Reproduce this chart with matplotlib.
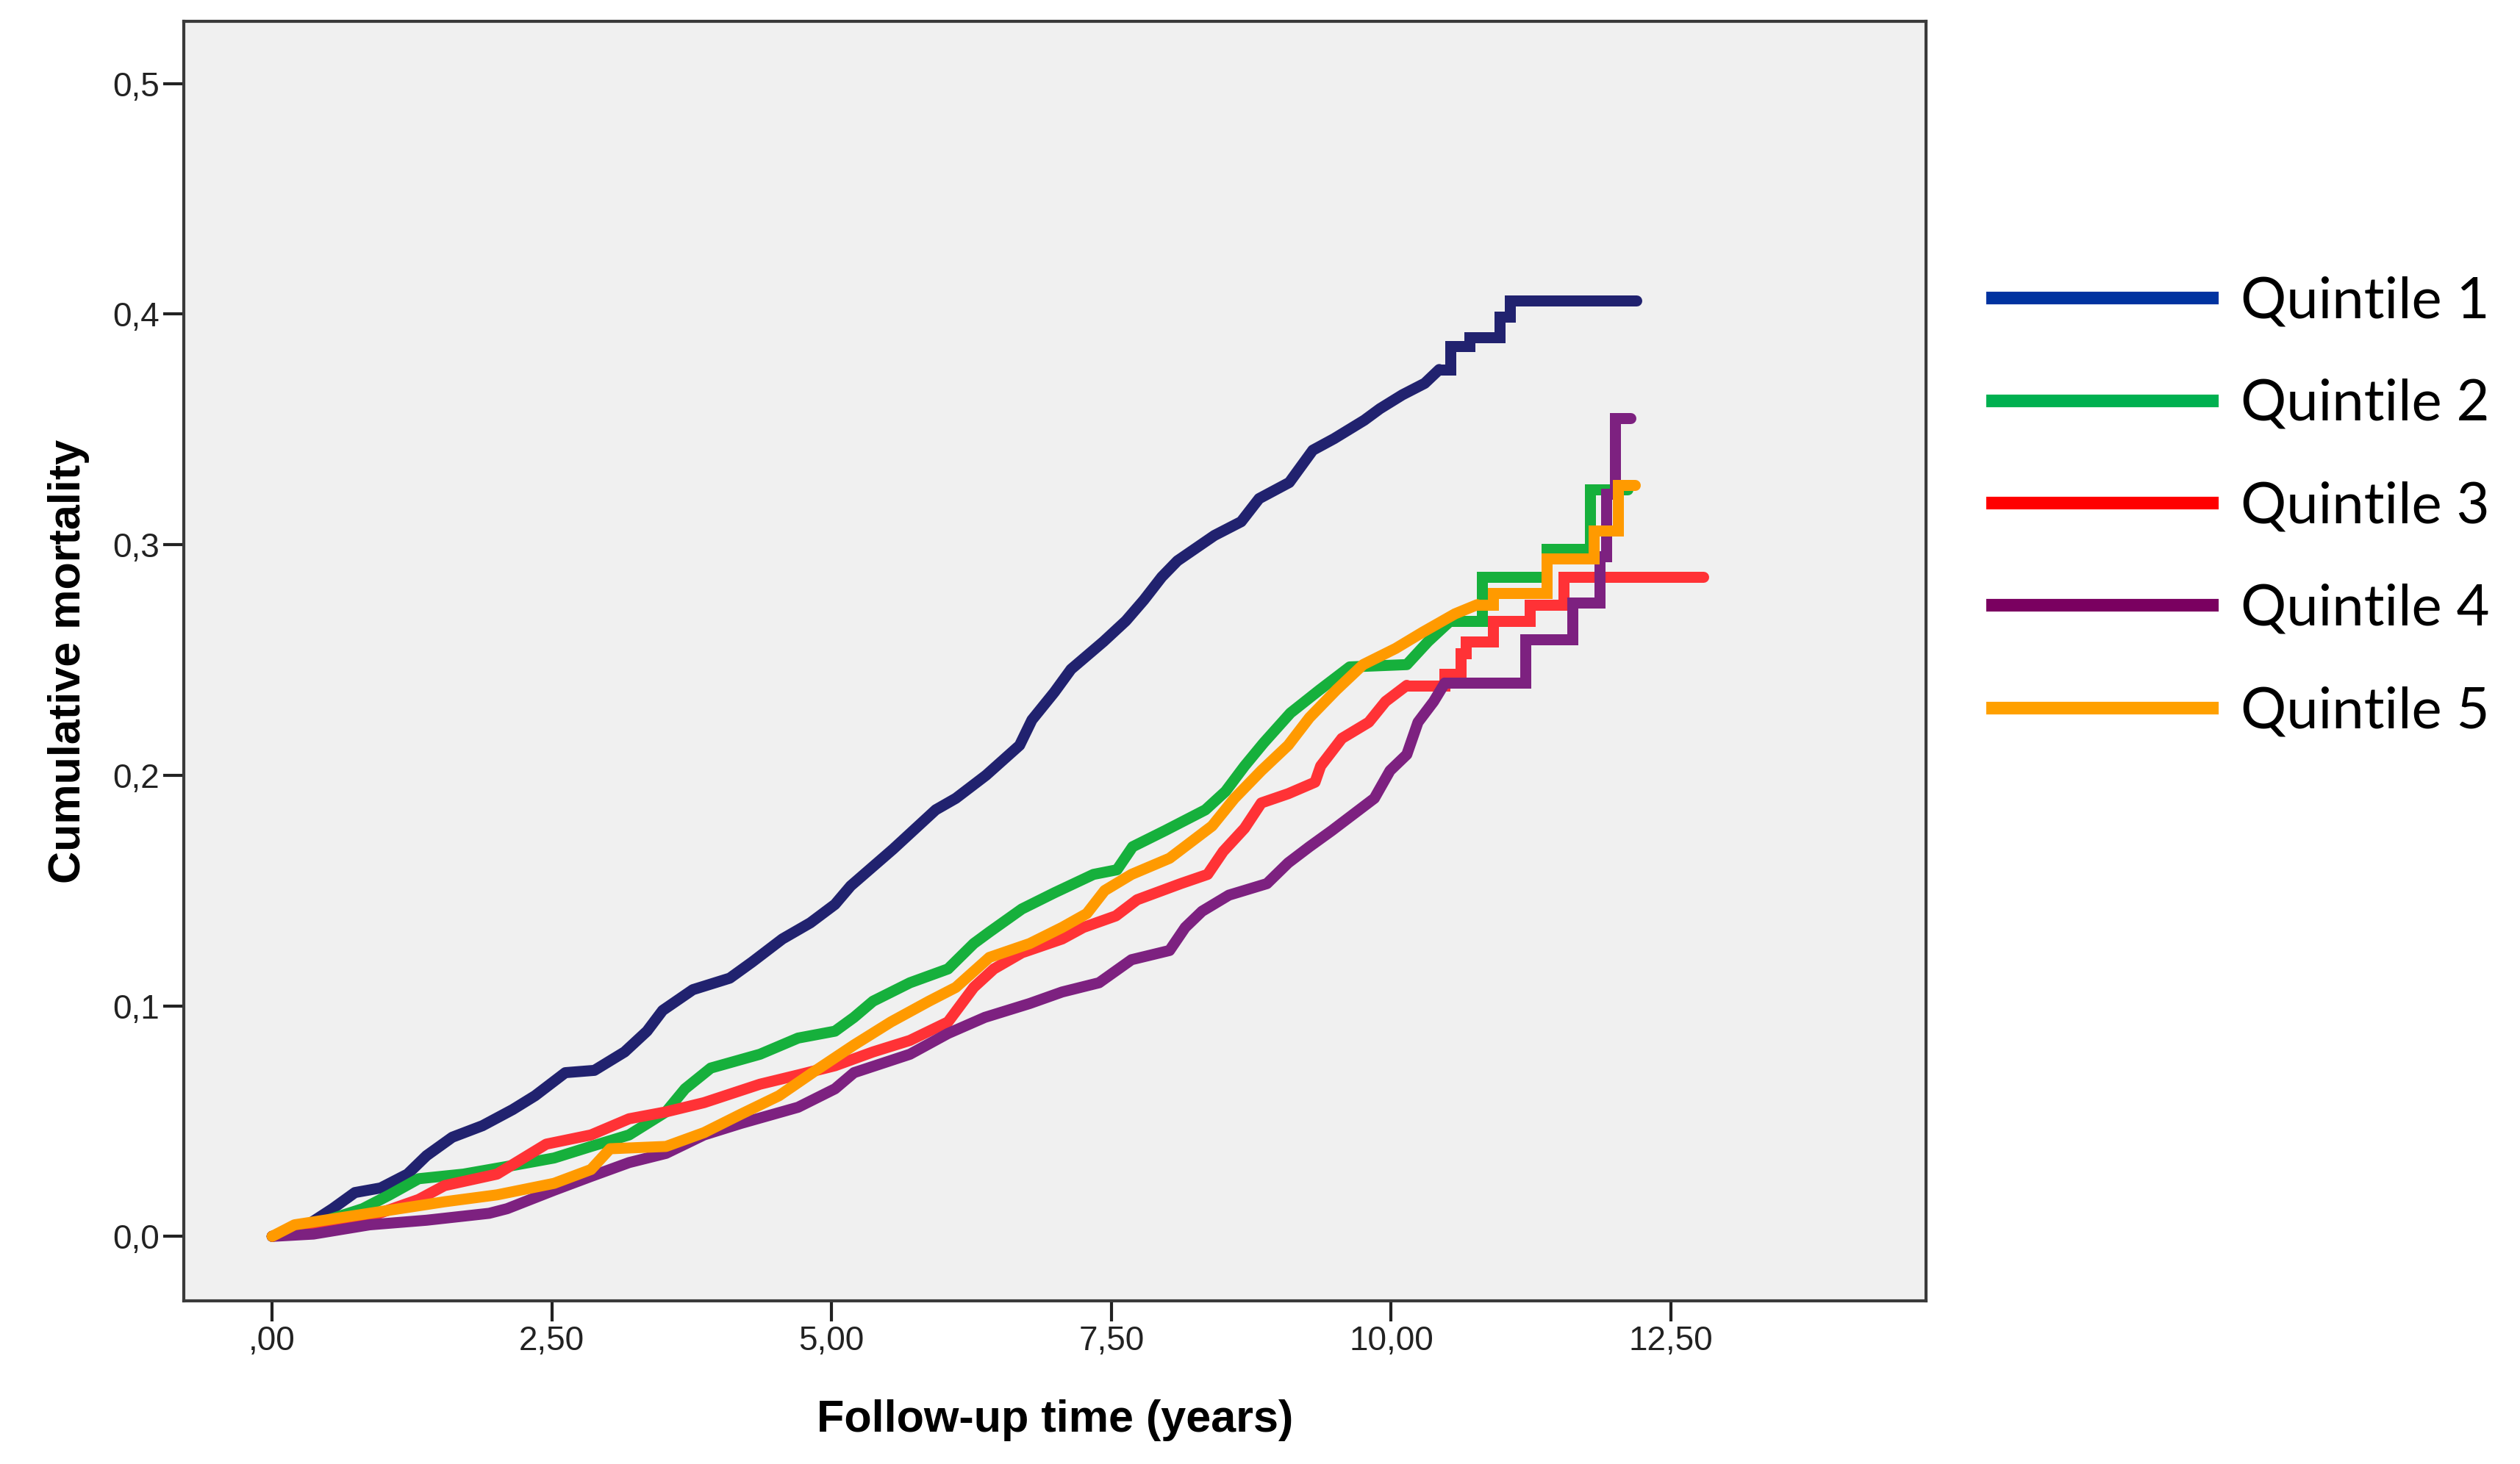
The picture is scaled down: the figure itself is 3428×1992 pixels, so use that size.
import matplotlib
matplotlib.use("Agg")
import matplotlib.pyplot as plt
from matplotlib.lines import Line2D

# cumulative mortality by quintile
# dense part of each curve (many tiny steps) ...
q1_t = [0, 0.15, 0.35, 0.54, 0.74, 0.97, 1.21, 1.38, 1.61, 1.88, 2.15, 2.35, 2.62, 2.88, 3.15, 3.35, 3.49, 3.76, 4.09, 4.29,
        4.56, 4.81, 5.03, 5.17, 5.55, 5.93, 6.11, 6.38, 6.68, 6.79, 6.99, 7.14, 7.43, 7.63, 7.79, 7.95, 8.09, 8.42, 8.66, 8.82,
        9.09, 9.30, 9.49, 9.76, 9.90, 10.10, 10.30, 10.43]
q1_v = [0, 0.002, 0.006, 0.012, 0.019, 0.021, 0.027, 0.035, 0.043, 0.048, 0.055, 0.061, 0.071, 0.072, 0.080, 0.089, 0.098, 0.107, 0.112, 0.119,
        0.129, 0.136, 0.144, 0.152, 0.168, 0.185, 0.190, 0.200, 0.213, 0.224, 0.236, 0.246, 0.258, 0.267, 0.276, 0.286, 0.293, 0.304, 0.310, 0.320,
        0.327, 0.341, 0.346, 0.354, 0.359, 0.365, 0.370, 0.376]

q2_t = [0, 0.30, 0.81, 1.05, 1.31, 1.71, 2.18, 2.52, 2.85, 3.19, 3.52, 3.69, 3.92, 4.36, 4.70, 5.03, 5.20, 5.37, 5.70, 6.04,
        6.27, 6.41, 6.70, 6.99, 7.34, 7.55, 7.69, 7.98, 8.34, 8.52, 8.69, 8.86, 9.10, 9.36, 9.63, 10.14, 10.33, 10.53]
q2_v = [0, 0.004, 0.012, 0.018, 0.025, 0.027, 0.031, 0.034, 0.039, 0.044, 0.054, 0.064, 0.073, 0.079, 0.086, 0.089, 0.095, 0.102, 0.110, 0.116,
        0.127, 0.132, 0.142, 0.149, 0.157, 0.159, 0.169, 0.176, 0.185, 0.193, 0.204, 0.214, 0.227, 0.237, 0.247, 0.248, 0.258, 0.267]

q3_t = [0, 0.40, 0.90, 1.31, 1.54, 2.01, 2.45, 2.85, 3.19, 3.52, 3.86, 4.36, 4.70, 5.03, 5.37, 5.70, 6.04, 6.27, 6.45, 6.70,
        7.06, 7.25, 7.54, 7.73, 8.12, 8.36, 8.50, 8.69, 8.84, 9.08, 9.32, 9.37, 9.56, 9.80, 9.95, 10.14]
q3_v = [0, 0.004, 0.009, 0.016, 0.022, 0.027, 0.040, 0.044, 0.051, 0.054, 0.058, 0.066, 0.070, 0.074, 0.080, 0.085, 0.093, 0.108, 0.116, 0.123,
        0.129, 0.134, 0.139, 0.146, 0.153, 0.157, 0.167, 0.177, 0.188, 0.192, 0.197, 0.204, 0.216, 0.223, 0.232, 0.239]

q4_t = [0, 0.37, 0.87, 1.38, 1.94, 2.10, 2.52, 2.85, 3.19, 3.52, 3.86, 4.19, 4.70, 5.03, 5.20, 5.70, 6.04, 6.37, 6.77, 7.06,
        7.39, 7.68, 8.02, 8.16, 8.31, 8.55, 8.89, 9.08, 9.27, 9.47, 9.66, 9.85, 9.99, 10.14, 10.24, 10.38, 10.48]
q4_v = [0, 0.001, 0.005, 0.007, 0.010, 0.012, 0.020, 0.026, 0.032, 0.036, 0.044, 0.049, 0.056, 0.064, 0.071, 0.079, 0.088, 0.095, 0.101, 0.106,
        0.110, 0.120, 0.124, 0.134, 0.141, 0.148, 0.153, 0.162, 0.169, 0.176, 0.183, 0.190, 0.202, 0.209, 0.223, 0.232, 0.240]

q5_t = [0, 0.20, 0.87, 1.54, 2.01, 2.52, 2.85, 3.02, 3.52, 3.86, 4.19, 4.53, 4.86, 5.20, 5.53, 5.87, 6.11, 6.41, 6.77, 7.06,
        7.28, 7.44, 7.68, 8.02, 8.21, 8.40, 8.60, 8.84, 9.08, 9.27, 9.51, 9.75, 10.04, 10.28, 10.57, 10.77]
q5_v = [0, 0.005, 0.010, 0.015, 0.018, 0.023, 0.029, 0.038, 0.039, 0.045, 0.053, 0.061, 0.072, 0.083, 0.093, 0.102, 0.108, 0.121, 0.127, 0.134,
        0.140, 0.150, 0.157, 0.164, 0.171, 0.178, 0.190, 0.202, 0.213, 0.225, 0.237, 0.248, 0.255, 0.262, 0.270, 0.274]

# ... and the sparse tails, where the individual steps are visible
q1_tail_t = [10.43, 10.53, 10.70, 10.97, 11.06, 12.19]
q1_tail_v = [0.376, 0.386, 0.390, 0.399, 0.406, 0.406]
q2_tail_t = [10.53, 10.81, 11.39, 11.78, 12.11]
q2_tail_v = [0.267, 0.286, 0.298, 0.324, 0.324]
q3_tail_t = [10.14, 10.48, 10.62, 10.67, 10.91, 11.24, 11.54, 12.79]
q3_tail_v = [0.239, 0.244, 0.253, 0.258, 0.267, 0.274, 0.286, 0.286]
q4_tail_t = [10.48, 11.20, 11.62, 11.86, 11.92, 12.00, 12.14]
q4_tail_v = [0.240, 0.259, 0.275, 0.295, 0.322, 0.355, 0.355]
q5_tail_t = [10.77, 10.91, 11.39, 11.81, 12.03, 12.18]
q5_tail_v = [0.274, 0.279, 0.294, 0.306, 0.326, 0.326]

labels = ['Quintile 1', 'Quintile 2', 'Quintile 3', 'Quintile 4', 'Quintile 5']
curve_colors = ['#21226f', '#16b03c', '#ff3236', '#7d2180', '#ff9a00']
legend_colors = ['#0033a0', '#00b050', '#ff0000', '#7a0060', '#ffa000']

x_ticks = [0, 2.5, 5, 7.5, 10, 12.5]
x_ticklabels = [',00', '2,50', '5,00', '7,50', '10,00', '12,50']
y_ticks = [0, 0.1, 0.2, 0.3, 0.4, 0.5]
y_ticklabels = ['0,0', '0,1', '0,2', '0,3', '0,4', '0,5']

plt.rcParams['font.family'] = ['Liberation Sans', 'DejaVu Sans']

fig = plt.figure(figsize=(17.14, 9.96), dpi=200)
ax = fig.add_axes([0.0729, 0.1114, 0.6914, 0.8740])
ax.set_facecolor('#f0f0f0')

bodies = [(q1_t, q1_v), (q2_t, q2_v), (q3_t, q3_v), (q4_t, q4_v), (q5_t, q5_v)]
tails = [(q1_tail_t, q1_tail_v), (q2_tail_t, q2_tail_v), (q3_tail_t, q3_tail_v),
         (q4_tail_t, q4_tail_v), (q5_tail_t, q5_tail_v)]
for (t, v), (tt, tv), c in zip(bodies, tails, curve_colors):
    ax.plot(t, v, color=c, lw=5.4, solid_capstyle='round', solid_joinstyle='round')
    ax.plot(tt, tv, drawstyle='steps-post', color=c, lw=5.4,
            solid_capstyle='round', solid_joinstyle='miter')

ax.set_xlim(-0.79, 14.78)
ax.set_ylim(-0.028, 0.527)
ax.set_xticks(x_ticks)
ax.set_xticklabels(x_ticklabels)
ax.set_yticks(y_ticks)
ax.set_yticklabels(y_ticklabels)
ax.tick_params(axis='both', direction='out', length=10, width=1.5, color='#222222',
               labelsize=16.5, labelcolor='#222222', pad=2)

for s in ax.spines.values():
    s.set_color('#3a3a3a')
    s.set_linewidth(1.5)

ax.set_xlabel('Follow-up time (years)', fontsize=22, fontweight='bold')
ax.set_ylabel('Cumulative mortality', fontsize=22, fontweight='bold')
ax.xaxis.set_label_coords(0.5, -0.077)
ax.yaxis.set_label_coords(-0.054, 0.5)

handles = [Line2D([], [], color=c, lw=6.2) for c in legend_colors]
fig.legend(handles, labels, loc='upper left', bbox_to_anchor=(0.7905, 0.8116),
           frameon=False, prop={'family': ['Lato', 'DejaVu Sans'], 'size': 28},
           handlelength=3.85, handletextpad=0.5, labelspacing=0.88,
           borderpad=0, borderaxespad=0)

fig.savefig('out.png', dpi=200)
